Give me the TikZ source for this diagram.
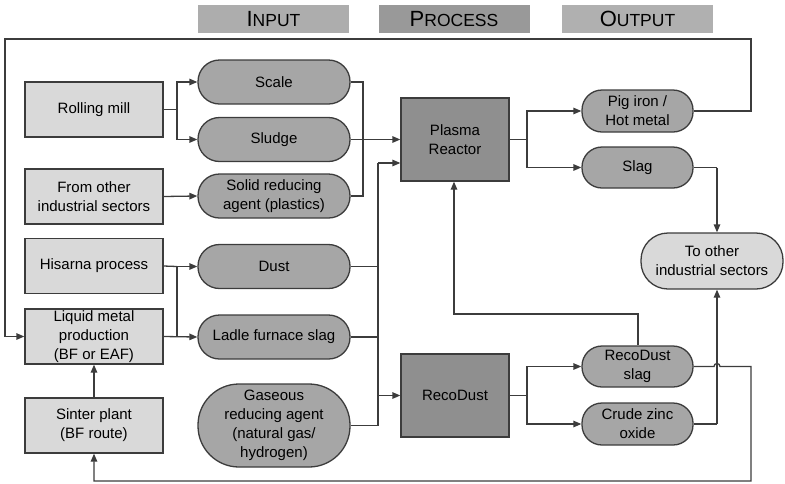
\documentclass[tikz,border=0pt]{standalone}
\usepackage{fontspec}
\setmainfont{Liberation Sans}
\usetikzlibrary{arrows.meta,calc}
\definecolor{lnc}{HTML}{3C3C3C}
\definecolor{boxc}{HTML}{D9D9D9}
\definecolor{pillc}{HTML}{A6A6A6}
\definecolor{reacc}{HTML}{8F8F8F}
\definecolor{hin}{HTML}{ADADAD}
\definecolor{hpr}{HTML}{999999}
\definecolor{hout}{HTML}{B0B0B0}
\begin{document}
\begin{tikzpicture}[x=1pt,y=-1pt,
  every node/.style={font=\fontsize{15}{19}\selectfont, align=center, inner sep=0pt},
  srcbox/.style={draw=lnc, line width=1.3pt, fill=boxc, minimum width=138pt, minimum height=55pt},
  pill/.style={draw=lnc, line width=1.3pt, fill=pillc, minimum width=152pt, minimum height=44pt, rounded corners=21.5pt},
  opill/.style={draw=lnc, line width=1.3pt, fill=pillc, minimum width=111pt, minimum height=41pt, rounded corners=20pt},
  reactor/.style={draw=lnc, line width=1.3pt, fill=reacc, minimum width=108pt, minimum height=83pt},
  hdr/.style={minimum width=151pt, minimum height=28pt},
  conn/.style={draw=lnc, line width=1.3pt},
  arr/.style={conn, -{Triangle[length=8pt,width=6.5pt]}},
  big/.style={},
]
\useasboundingbox (0,0) rectangle (785,483);

% headers
\node[hdr, fill=hin] (hin) at (273.5,19) {{\fontsize{22}{22}\selectfont I}{\fontsize{17.5}{17.5}\selectfont NPUT}};
\node[hdr, fill=hpr] (hpr) at (454,19) {{\fontsize{22}{22}\selectfont P}{\fontsize{17.5}{17.5}\selectfont ROCESS}};
\node[hdr, fill=hout] (hout) at (637.5,19) {{\fontsize{22}{22}\selectfont O}{\fontsize{17.5}{17.5}\selectfont UTPUT}};

% source boxes
\node[srcbox] (rm) at (94,109.5) {Rolling mill};
\node[srcbox] (other) at (94,196.5) {From other\\industrial sectors};
\node[srcbox] (his) at (94,266) {Hisarna process};
\node[srcbox] (liq) at (94,336.5) {Liquid metal\\production\\(BF or EAF)};
\node[srcbox] (sin) at (94,425.5) {Sinter plant\\(BF route)};

% input pills
\node[pill] (scale) at (274,82) {Scale};
\node[pill] (sludge) at (274,139.5) {Sludge};
\node[pill] (solid) at (274,196) {Solid reducing\\agent (plastics)};
\node[pill] (dust) at (274,266.5) {Dust};
\node[pill] (ladle) at (274,337) {Ladle furnace slag};
\node[pill, minimum height=83pt, rounded corners=41pt] (gas) at (274,425.5) {Gaseous\\reducing agent\\(natural gas/\\hydrogen)};

% reactors
\node[reactor] (plasma) at (455,139.5) {Plasma\\Reactor};
\node[reactor] (reco) at (455,395.5) {RecoDust};

% output pills
\node[opill, minimum height=42pt] (pig) at (637.5,111) {Pig iron /\\Hot metal};
\node[opill] (slag) at (637.5,167.5) {Slag};
\node[opill] (rslag) at (637.5,366.5) {RecoDust\\slag};
\node[opill, minimum height=42pt] (zinc) at (637.5,424) {Crude zinc\\oxide};
\node[draw=lnc, line width=1.3pt, fill=boxc, minimum width=142pt, minimum height=56pt, rounded corners=27pt] (toother) at (712,261) {To other\\industrial sectors};

% junction coordinates
\coordinate (j1) at (177,109.5);
\coordinate (j2) at (177,266.5);
\coordinate (j3) at (177,337);
\coordinate (js) at (363,82);
\coordinate (v) at (378,163);
\coordinate (jp) at (527,139.5);
\coordinate (jr) at (527,395.5);
\coordinate (jo) at (717,167.5);
\coordinate (tl) at (5,39);
\coordinate (tr) at (751,39);
\coordinate (bl) at (94,481);
\coordinate (br) at (751,481);
\coordinate (fb) at (638,314);
\coordinate (fb2) at (454,314);

% rolling mill
\draw[conn] (rm.east) -- (j1);
\draw[arr] (j1) |- (scale.west);
\draw[arr] (j1) |- (sludge.west);
\draw[arr] (other.east) -- (solid.west);
\draw[conn] (scale.east) -- (js) |- (solid.east);
\draw[arr] (sludge.east) -- (sludge.east -| plasma.west);

% hisarna / liquid
\draw[conn] (his.east) -- (j2);
\draw[arr] (j2) -- (dust.west);
\draw[conn] (j2) -- (j3);
\draw[arr] (liq.east) -- (ladle.west);
\draw[arr] (sin.north) -- (liq.south);

% collector to reactors
\draw[conn] (dust.east) -- (dust.east -| v);
\draw[conn] (ladle.east) -- (ladle.east -| v);
\draw[conn] (gas.east) -- (gas.east -| v);
\draw[conn] (v) -- (v |- gas.east);
\draw[arr] (v) -- (v -| plasma.west);
\draw[arr] (v |- reco.west) -- (reco.west);

% plasma outputs
\draw[conn] (plasma.east) -- (jp);
\draw[arr] (jp) |- (pig.west);
\draw[arr] (jp) |- (slag.west);
\draw[conn] (slag.east) -- (jo);
\draw[arr] (jo) -- (jo |- toother.north);

% recodust outputs
\draw[conn] (reco.east) -- (jr);
\draw[arr] (jr) |- (rslag.west);
\draw[arr] (jr) |- (zinc.west);
\draw[conn] (zinc.east) -| (jo |- zinc.east) coordinate (jz);
\draw[arr] (jz) -- (jo |- toother.south);

% feedback loops
\draw[arr] (pig.east) -| (tr) -- (tl) |- (liq.west);
\draw[arr] (rslag.north -| fb) -- (fb) -- (fb2) -- (plasma.south -| fb2);
\draw[arr] (rslag.east) -- ($(jo |- rslag.east)+(-3,0)$) arc[start angle=180, end angle=360, radius=3] -- (br |- rslag.east) -- (br) -- (bl) -- (sin.south);
\end{tikzpicture}
\end{document}
